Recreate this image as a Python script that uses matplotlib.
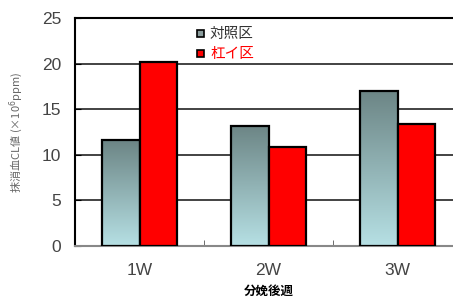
import numpy as np
import matplotlib
matplotlib.use("Agg")
import matplotlib.pyplot as plt
from matplotlib.patches import Rectangle

plt.rcParams['font.family'] = ['Noto Sans CJK JP', 'DejaVu Sans']

weeks = ['1W', '2W', '3W']
control = [11.6, 13.2, 17.0]
treated = [20.2, 10.9, 13.4]
series_names = ['対照区', '杠イ区']

fig = plt.figure(figsize=(4.53, 2.97), dpi=100)
ax = fig.add_axes([75 / 453, 51 / 297, 387 / 453, 228 / 297])

x = np.arange(len(weeks))
w = 0.29

# gradient for the control bars
grad = np.linspace(0, 1, 256).reshape(-1, 1)
cmap = matplotlib.colors.LinearSegmentedColormap.from_list(
    'g', ['#b6e0e4', '#6c8585'])

bars_c = ax.bar(x - w / 2, control, w, color='none', edgecolor='black',
                linewidth=1.6, zorder=3)
for b in bars_c:
    x0, y0 = b.get_x(), b.get_y()
    im = ax.imshow(grad, cmap=cmap, aspect='auto', origin='lower',
                   extent=[x0, x0 + b.get_width(), y0, y0 + b.get_height()],
                   zorder=2)
    im.set_clip_path(b)
bars_t = ax.bar(x + w / 2, treated, w, color='#ff0000', edgecolor='black',
                linewidth=1.6, zorder=3)

ax.set_xlim(-0.5, 2.5)
ax.set_ylim(0, 25)
ax.set_yticks(range(0, 26, 5))
ax.yaxis.grid(True, color='#222222', linewidth=1.2, zorder=0)
ax.set_axisbelow(True)

tick_font = dict(family=['Liberation Sans', 'DejaVu Sans'], size=12.5)
ax.set_xticks(x)
ax.set_xticklabels(weeks, fontdict=tick_font)
ax.set_yticklabels([str(v) for v in range(0, 26, 5)], fontdict=tick_font)
ax.set_xticks([0.5, 1.5], minor=True)
ax.tick_params(axis='x', which='major', length=0, pad=12,
               labelcolor='#444444')
ax.tick_params(axis='x', which='minor', direction='in', length=4,
               color='#555555')
ax.tick_params(axis='y', direction='in', length=4, pad=10,
               labelcolor='#444444')

for s in ax.spines.values():
    s.set_linewidth(1.5)
ax.spines['bottom'].set_color('#888888')

ax.set_xlabel('分娩後週', fontsize=9, fontweight='bold', labelpad=5)
ax.set_ylabel('抹消血CL値 (×10$^6$ppm)', fontsize=8, color='#666666',
              labelpad=12)

# legend
lx, ly = 201, 34
for i, (name, col) in enumerate(zip(series_names, ['#8a9c9c', '#ff0000'])):
    yy = ly + i * 20
    fig.patches.append(Rectangle(((lx - 4) / 453, 1 - (yy + 3) / 297),
                                 7 / 453, 7 / 297, transform=fig.transFigure,
                                 facecolor=col, edgecolor='black',
                                 linewidth=1.2, figure=fig))
    fig.text((lx + 9) / 453, 1 - yy / 297, name, fontsize=10.5,
             color='#333333' if i == 0 else '#ff0000', va='center')

fig.savefig('out.png', dpi=100)
